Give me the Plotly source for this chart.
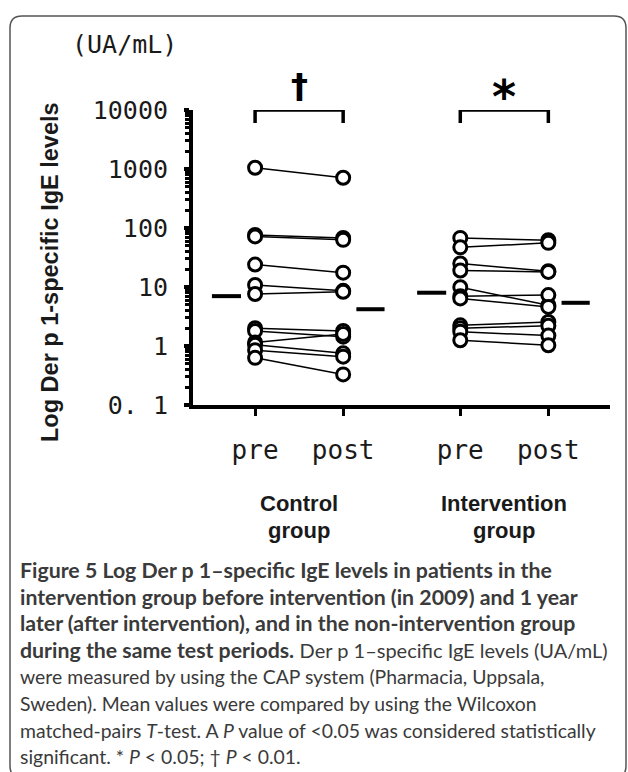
import plotly.graph_objects as go

# ---------------- data ----------------
groups = ["Control", "Intervention"]
time_labels = ["pre", "post"]
control_pre = [1050, 76, 72, 24, 10.8, 7.6, 2.0, 1.8, 1.15, 1.05, 0.85, 0.63]
control_post = [710, 68, 63, 17.5, 8.6, 8.3, 1.8, 1.44, 1.6, 0.75, 0.66, 0.33]
intervention_pre = [68, 47, 25, 19, 9.9, 7.0, 6.4, 2.24, 2.0, 1.75, 1.25]
intervention_post = [62, 56, 18.5, 18, 4.9, 7.3, 4.6, 2.55, 2.2, 1.5, 1.03]
mean_pre = [7.0, 8.0]
mean_post = [4.2, 5.4]
significance = ["†", "*"]
y_tickvals = [0.1, 1, 10, 100, 1000, 10000]
y_ticktext = ["0. 1", "1", "10", "100", "1000", "10000"]

# ---------------- layout constants ----------------
W, H = 628, 772
L, R, T, B = 193, 610, 110, 405          # plot area in pixels
group_pos = [(1.0, 2.0), (3.33, 4.33)]   # x positions of pre/post per group
x_range = [0.295, 5.03]
bracket_low = 6000

def px(x):
    return (x - L) / (R - L)

def py(y):
    return (B - y) / (B - T)

fig = go.Figure()

# connecting lines + points
for (xp, xq), pre, post in zip(group_pos, [control_pre, intervention_pre],
                                [control_post, intervention_post]):
    lx, ly = [], []
    for a, b in zip(pre, post):
        lx += [xp, xq, None]
        ly += [a, b, None]
    fig.add_trace(go.Scatter(x=lx, y=ly, mode="lines",
                             line=dict(color="black", width=1.5),
                             hoverinfo="skip", showlegend=False))
for (xp, xq), pre, post in zip(group_pos, [control_pre, intervention_pre],
                                [control_post, intervention_post]):
    fig.add_trace(go.Scatter(
        x=[xp] * len(pre) + [xq] * len(post), y=pre + post, mode="markers",
        marker=dict(symbol="circle", size=13, color="white",
                    line=dict(color="black", width=3)),
        showlegend=False))

# mean bars
for (xp, xq), mp, mq in zip(group_pos, mean_pre, mean_post):
    fig.add_trace(go.Scatter(x=[xp - 0.49, xp - 0.16], y=[mp, mp], mode="lines",
                             line=dict(color="black", width=4), showlegend=False))
    fig.add_trace(go.Scatter(x=[xq + 0.15, xq + 0.47], y=[mq, mq], mode="lines",
                             line=dict(color="black", width=4), showlegend=False))

# significance brackets
for (xp, xq) in group_pos:
    fig.add_trace(go.Scatter(x=[xp, xp, xq, xq],
                             y=[bracket_low, 10000, 10000, bracket_low],
                             mode="lines", line=dict(color="black", width=3.5),
                             cliponaxis=False, showlegend=False))

ann = []
sig_style = [dict(y=86, size=34), dict(y=97, size=46)]
for (xp, xq), s, st in zip(group_pos, significance, sig_style):
    ann.append(dict(x=(xp + xq) / 2, xref="x", y=py(st["y"]), yref="paper",
                    text=f"<b>{s}</b>", showarrow=False, yanchor="middle",
                    font=dict(family="DejaVu Sans", size=st["size"], color="black")))

# group labels
for (xp, xq), g in zip(group_pos, groups):
    ann.append(dict(x=(xp + xq) / 2, xref="x", y=py(503), yref="paper",
                    text=f"<b>{g}</b>", showarrow=False, yanchor="middle",
                    font=dict(family="Liberation Sans", size=22, color="#1a1a1a")))
    ann.append(dict(x=(xp + xq) / 2, xref="x", y=py(530), yref="paper",
                    text="<b>group</b>", showarrow=False, yanchor="middle",
                    font=dict(family="Liberation Sans", size=22, color="#1a1a1a")))

# unit label
ann.append(dict(x=px(70), xref="paper", y=py(45), yref="paper", text="(UA/mL)",
                showarrow=False, xanchor="left", yanchor="middle",
                font=dict(family="DejaVu Sans Mono", size=25, color="#1a1a1a")))

# y-axis title
ann.append(dict(x=px(50), xref="paper", y=py(272), yref="paper",
                text="<b>Log Der p 1-specific IgE levels</b>", textangle=-90,
                showarrow=False, xanchor="center", yanchor="middle",
                font=dict(family="Liberation Sans", size=23.5, color="#1a1a1a")))

# caption
BOLD, REG = 21.3, 19.4
cap_lines = [
    ("<b>Figure 5 Log Der p 1–specific IgE levels in patients in the</b>", BOLD),
    ("<b>intervention group before intervention (in 2009) and 1 year</b>", BOLD),
    ("<b>later (after intervention), and in the non-intervention group</b>", BOLD),
    ("<b>during the same test periods.</b> "
     "<span style='font-size:20px'>Der p 1–specific IgE levels (UA/mL)</span>", BOLD),
    ("were measured by using the CAP system (Pharmacia, Uppsala,", REG),
    ("Sweden). Mean values were compared by using the Wilcoxon", REG),
    ("matched-pairs <i>T</i>-test. A <i>P</i> value of &lt;0.05 was considered statistically", REG),
    ("significant. * <i>P</i> &lt; 0.05; † <i>P</i> &lt; 0.01.", REG),
]
for i, (line, size) in enumerate(cap_lines):
    ann.append(dict(x=px(18), xref="paper", y=py(570 + 26.7 * i), yref="paper",
                    text=line, showarrow=False, xanchor="left", yanchor="middle",
                    font=dict(family="Lato", size=size, color="#3a3a3a")))

# frame (rounded rectangle)
x0, x1, y0, y1, r = 10, 626, 16, 778, 12
def P(x, y):
    return f"{px(x):.5f},{py(y):.5f}"
path = (f"M {P(x0 + r, y0)} L {P(x1 - r, y0)} Q {P(x1, y0)} {P(x1, y0 + r)} "
        f"L {P(x1, y1 - r)} Q {P(x1, y1)} {P(x1 - r, y1)} L {P(x0 + r, y1)} "
        f"Q {P(x0, y1)} {P(x0, y1 - r)} L {P(x0, y0 + r)} Q {P(x0, y0)} {P(x0 + r, y0)} Z")

fig.update_layout(
    width=W, height=H,
    margin=dict(l=L, r=W - R, t=T, b=H - B, pad=0),
    paper_bgcolor="white", plot_bgcolor="white",
    showlegend=False,
    annotations=ann,
    shapes=[dict(type="path", path=path, xref="paper", yref="paper",
                 line=dict(color="#555555", width=1.5))],
    xaxis=dict(range=x_range, showgrid=False, zeroline=False,
               showline=True, linewidth=4, linecolor="black",
               ticks="outside", ticklen=7, tickwidth=3, tickcolor="black",
               tickvals=[p for pair in group_pos for p in pair],
               ticktext=time_labels * 2, ticklabelstandoff=12,
               tickfont=dict(family="DejaVu Sans Mono", size=26, color="#1a1a1a")),
    yaxis=dict(type="log", range=[-1, 4], showgrid=False, zeroline=False,
               showline=True, linewidth=4, linecolor="black",
               ticks="outside", ticklen=5, tickwidth=4, tickcolor="black",
               tickvals=y_tickvals, ticktext=y_ticktext, ticklabelstandoff=11,
               tickfont=dict(family="DejaVu Sans Mono", size=25, color="#1a1a1a"),
               minor=dict(ticks="outside", ticklen=4, tickwidth=2.5,
                          tickcolor="black", dtick="D1", showgrid=False)),
)

fig.write_html("out.html", config={"displayModeBar": False},
               post_script="document.body.style.margin='0';document.body.style.overflow='hidden';")
